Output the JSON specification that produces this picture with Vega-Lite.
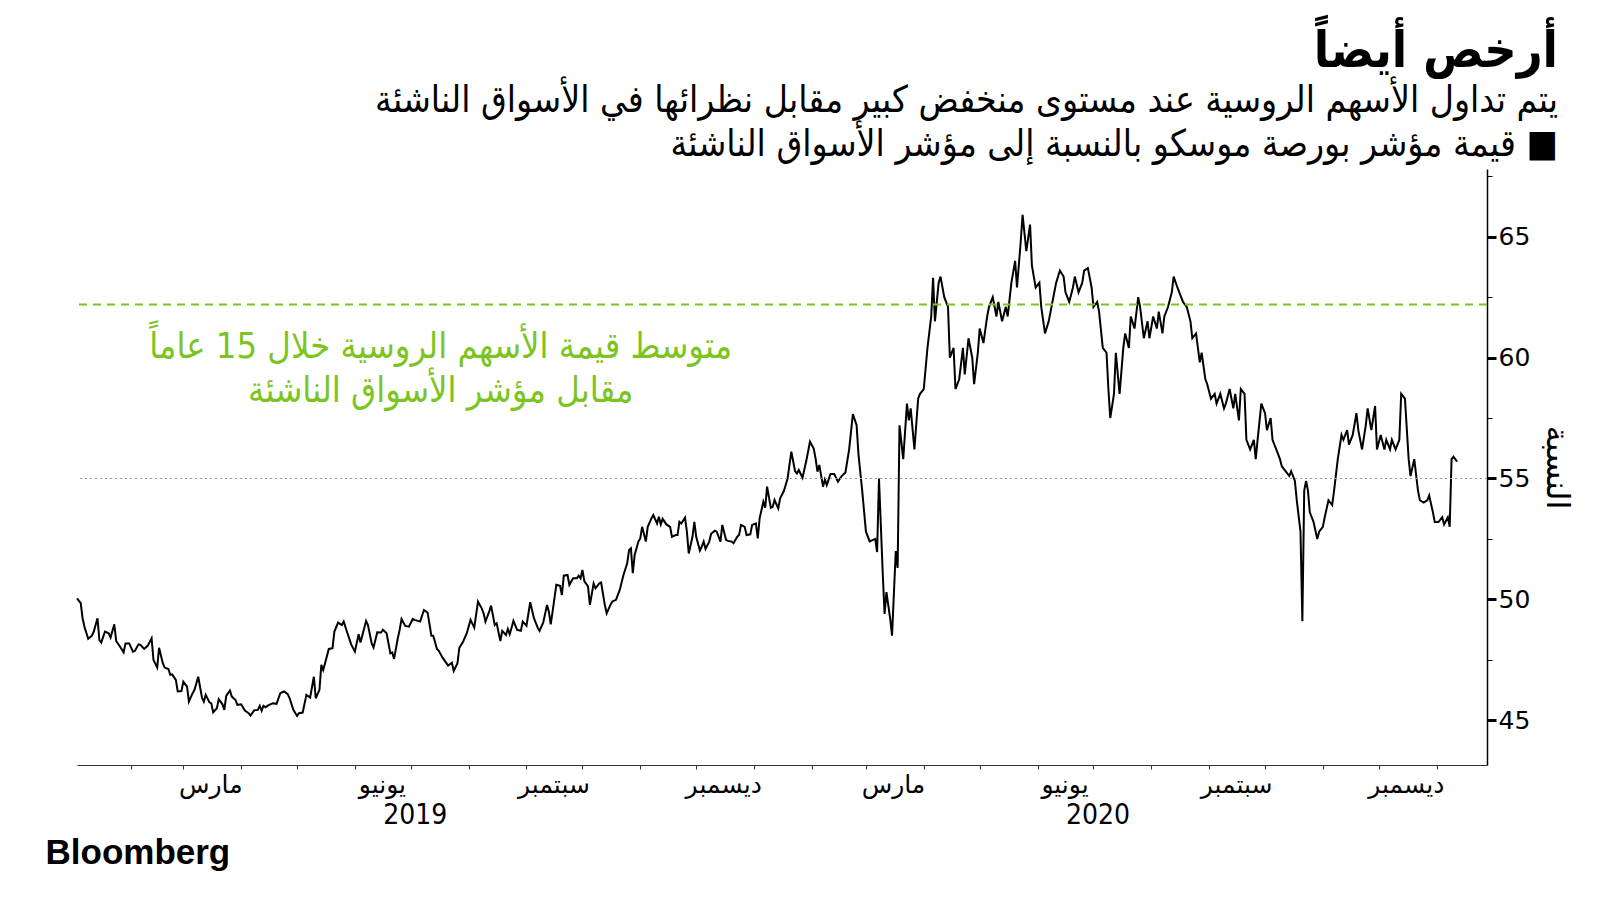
{
"$schema":"https://vega.github.io/schema/vega-lite/v6.json",
"width":1410,"height":596,
"padding":{"left":45,"top":27,"right":5,"bottom":5},
"background":"white",
"config":{"view":{"stroke":null}},
"title":{"text":"أرخص أيضاً","subtitle":["يتم تداول الأسهم الروسية عند مستوى منخفض كبير مقابل نظرائها في الأسواق الناشئة","قيمة مؤشر بورصة موسكو بالنسبة إلى مؤشر الأسواق الناشئة ■"],"anchor":"end","frame":"group","dx":71,"offset":1,"font":"DejaVu Sans Condensed","fontSize":50,"fontWeight":"bold","color":"black","lineHeight":52,"subtitleFont":"DejaVu Sans Condensed","subtitleFontSize":37,"subtitleColor":"black","subtitleLineHeight":44,"subtitlePadding":6},
"layer":[
{"data":{"values":[
{"d":"2019-01-03","v":50.04},{"d":"2019-01-05","v":49.84},{"d":"2019-01-06","v":49.22},{"d":"2019-01-07","v":48.87},{"d":"2019-01-09","v":48.37},{"d":"2019-01-11","v":48.5},{"d":"2019-01-12","v":48.67},{"d":"2019-01-14","v":49.22},{"d":"2019-01-15","v":48.32},{"d":"2019-01-16","v":48.21},{"d":"2019-01-18","v":48.67},{"d":"2019-01-20","v":48.6},{"d":"2019-01-21","v":48.42},{"d":"2019-01-23","v":48.97},{"d":"2019-01-24","v":48.28},{"d":"2019-01-26","v":48.05},{"d":"2019-01-28","v":47.81},{"d":"2019-01-29","v":48.18},{"d":"2019-01-31","v":48.18},
{"d":"2019-02-02","v":47.84},{"d":"2019-02-03","v":47.87},{"d":"2019-02-05","v":48.14},{"d":"2019-02-06","v":48.12},{"d":"2019-02-08","v":47.95},{"d":"2019-02-10","v":48.09},{"d":"2019-02-12","v":48.39},{"d":"2019-02-13","v":47.5},{"d":"2019-02-15","v":47.18},{"d":"2019-02-16","v":48.0},{"d":"2019-02-18","v":47.36},{"d":"2019-02-19","v":47.18},{"d":"2019-02-21","v":47.12},{"d":"2019-02-22","v":46.88},{"d":"2019-02-23","v":46.9},{"d":"2019-02-25","v":46.67},{"d":"2019-02-26","v":46.19},{"d":"2019-02-28","v":46.21},
{"d":"2019-03-01","v":46.6},{"d":"2019-03-03","v":46.39},{"d":"2019-03-04","v":45.77},{"d":"2019-03-06","v":46.12},{"d":"2019-03-07","v":46.26},{"d":"2019-03-09","v":46.8},{"d":"2019-03-11","v":45.94},{"d":"2019-03-12","v":45.77},{"d":"2019-03-13","v":46.05},{"d":"2019-03-15","v":45.74},{"d":"2019-03-16","v":45.7},{"d":"2019-03-17","v":45.33},{"d":"2019-03-19","v":45.5},{"d":"2019-03-20","v":45.87},{"d":"2019-03-22","v":45.66},{"d":"2019-03-23","v":45.43},{"d":"2019-03-24","v":46.01},{"d":"2019-03-26","v":46.23},{"d":"2019-03-27","v":45.98},{"d":"2019-03-29","v":45.84},{"d":"2019-03-30","v":45.64},
{"d":"2019-04-01","v":45.66},{"d":"2019-04-03","v":45.4},{"d":"2019-04-05","v":45.29},{"d":"2019-04-06","v":45.19},{"d":"2019-04-08","v":45.41},{"d":"2019-04-10","v":45.43},{"d":"2019-04-11","v":45.6},{"d":"2019-04-12","v":45.4},{"d":"2019-04-13","v":45.6},{"d":"2019-04-14","v":45.54},{"d":"2019-04-16","v":45.64},{"d":"2019-04-18","v":45.7},{"d":"2019-04-20","v":45.68},{"d":"2019-04-22","v":46.12},{"d":"2019-04-24","v":46.19},{"d":"2019-04-26","v":46.08},{"d":"2019-04-27","v":45.91},{"d":"2019-04-29","v":45.43},
{"d":"2019-05-01","v":45.18},{"d":"2019-05-02","v":45.29},{"d":"2019-05-04","v":45.32},{"d":"2019-05-06","v":46.05},{"d":"2019-05-08","v":45.94},{"d":"2019-05-10","v":46.8},{"d":"2019-05-11","v":45.91},{"d":"2019-05-13","v":46.26},{"d":"2019-05-14","v":47.29},{"d":"2019-05-15","v":47.08},{"d":"2019-05-16","v":47.36},{"d":"2019-05-18","v":47.95},{"d":"2019-05-20","v":47.98},{"d":"2019-05-21","v":48.67},{"d":"2019-05-23","v":49.04},{"d":"2019-05-25","v":48.94},{"d":"2019-05-26","v":49.08},{"d":"2019-05-28","v":48.6},{"d":"2019-05-30","v":48.14},
{"d":"2019-06-01","v":47.84},{"d":"2019-06-03","v":48.56},{"d":"2019-06-04","v":48.22},{"d":"2019-06-07","v":49.11},{"d":"2019-06-08","v":48.94},{"d":"2019-06-10","v":48.18},{"d":"2019-06-11","v":48.01},{"d":"2019-06-13","v":48.64},{"d":"2019-06-15","v":48.63},{"d":"2019-06-16","v":48.74},{"d":"2019-06-18","v":48.6},{"d":"2019-06-20","v":47.77},{"d":"2019-06-21","v":47.81},{"d":"2019-06-22","v":47.54},{"d":"2019-06-24","v":48.39},{"d":"2019-06-25","v":48.74},{"d":"2019-06-26","v":49.19},{"d":"2019-06-28","v":48.9},{"d":"2019-06-30","v":48.87},
{"d":"2019-07-02","v":49.19},{"d":"2019-07-03","v":49.15},{"d":"2019-07-06","v":49.08},{"d":"2019-07-08","v":49.56},{"d":"2019-07-10","v":49.45},{"d":"2019-07-12","v":48.5},{"d":"2019-07-13","v":48.5},{"d":"2019-07-15","v":47.95},{"d":"2019-07-16","v":47.87},{"d":"2019-07-18","v":47.59},{"d":"2019-07-21","v":47.26},{"d":"2019-07-23","v":47.38},{"d":"2019-07-24","v":47.04},{"d":"2019-07-26","v":47.36},{"d":"2019-07-27","v":48.0},{"d":"2019-07-29","v":48.25},{"d":"2019-07-31","v":48.6},
{"d":"2019-08-02","v":49.15},{"d":"2019-08-04","v":48.83},{"d":"2019-08-06","v":49.91},{"d":"2019-08-08","v":49.63},{"d":"2019-08-09","v":49.42},{"d":"2019-08-10","v":49.08},{"d":"2019-08-12","v":49.49},{"d":"2019-08-13","v":49.74},{"d":"2019-08-15","v":48.94},{"d":"2019-08-16","v":49.01},{"d":"2019-08-18","v":48.28},{"d":"2019-08-19","v":48.7},{"d":"2019-08-21","v":48.53},{"d":"2019-08-22","v":48.78},{"d":"2019-08-23","v":48.56},{"d":"2019-08-24","v":48.83},{"d":"2019-08-25","v":49.11},{"d":"2019-08-27","v":48.74},{"d":"2019-08-29","v":48.7},{"d":"2019-08-30","v":49.08},
{"d":"2019-09-01","v":48.91},{"d":"2019-09-03","v":49.88},{"d":"2019-09-05","v":49.22},{"d":"2019-09-07","v":48.83},{"d":"2019-09-08","v":48.7},{"d":"2019-09-10","v":49.05},{"d":"2019-09-12","v":49.77},{"d":"2019-09-13","v":49.49},{"d":"2019-09-14","v":48.97},{"d":"2019-09-15","v":49.49},{"d":"2019-09-17","v":50.6},{"d":"2019-09-19","v":50.56},{"d":"2019-09-20","v":50.18},{"d":"2019-09-21","v":50.98},{"d":"2019-09-23","v":51.01},{"d":"2019-09-24","v":50.6},{"d":"2019-09-26","v":50.87},{"d":"2019-09-28","v":50.87},{"d":"2019-09-29","v":50.98},{"d":"2019-09-30","v":50.87},
{"d":"2019-10-01","v":51.22},{"d":"2019-10-02","v":50.76},{"d":"2019-10-04","v":50.53},{"d":"2019-10-05","v":49.77},{"d":"2019-10-07","v":50.66},{"d":"2019-10-08","v":50.46},{"d":"2019-10-10","v":50.66},{"d":"2019-10-11","v":50.7},{"d":"2019-10-13","v":49.77},{"d":"2019-10-14","v":49.42},{"d":"2019-10-16","v":49.77},{"d":"2019-10-17","v":49.91},{"d":"2019-10-19","v":49.98},{"d":"2019-10-21","v":50.39},{"d":"2019-10-23","v":51.01},{"d":"2019-10-25","v":51.49},{"d":"2019-10-26","v":52.04},{"d":"2019-10-27","v":52.11},{"d":"2019-10-28","v":51.08},{"d":"2019-10-29","v":51.84},{"d":"2019-10-31","v":52.39},
{"d":"2019-11-01","v":52.52},{"d":"2019-11-02","v":53.0},{"d":"2019-11-04","v":52.39},{"d":"2019-11-05","v":53.0},{"d":"2019-11-07","v":53.35},{"d":"2019-11-08","v":53.49},{"d":"2019-11-10","v":53.14},{"d":"2019-11-11","v":53.42},{"d":"2019-11-12","v":53.1},{"d":"2019-11-13","v":53.33},{"d":"2019-11-15","v":53.1},{"d":"2019-11-17","v":53.0},{"d":"2019-11-18","v":52.59},{"d":"2019-11-20","v":52.66},{"d":"2019-11-21","v":52.66},{"d":"2019-11-22","v":53.21},{"d":"2019-11-23","v":53.14},{"d":"2019-11-25","v":53.38},{"d":"2019-11-26","v":52.8},{"d":"2019-11-27","v":51.9},{"d":"2019-11-29","v":52.59},{"d":"2019-11-30","v":53.21},
{"d":"2019-12-01","v":52.59},{"d":"2019-12-03","v":52.02},{"d":"2019-12-04","v":52.18},{"d":"2019-12-05","v":52.39},{"d":"2019-12-06","v":52.09},{"d":"2019-12-08","v":52.39},{"d":"2019-12-09","v":52.71},{"d":"2019-12-11","v":52.84},{"d":"2019-12-12","v":52.8},{"d":"2019-12-14","v":52.39},{"d":"2019-12-15","v":53.08},{"d":"2019-12-17","v":52.46},{"d":"2019-12-18","v":52.42},{"d":"2019-12-20","v":52.39},{"d":"2019-12-21","v":52.32},{"d":"2019-12-23","v":52.59},{"d":"2019-12-24","v":52.66},{"d":"2019-12-25","v":53.08},{"d":"2019-12-27","v":53.0},{"d":"2019-12-28","v":52.66},{"d":"2019-12-30","v":52.69},{"d":"2019-12-31","v":53.08},
{"d":"2020-01-02","v":53.14},{"d":"2020-01-03","v":52.52},{"d":"2020-01-04","v":53.35},{"d":"2020-01-06","v":54.04},{"d":"2020-01-07","v":53.79},{"d":"2020-01-08","v":54.66},{"d":"2020-01-10","v":53.79},{"d":"2020-01-11","v":53.83},{"d":"2020-01-12","v":54.11},{"d":"2020-01-14","v":53.76},{"d":"2020-01-15","v":54.18},{"d":"2020-01-17","v":54.48},{"d":"2020-01-19","v":55.0},{"d":"2020-01-21","v":56.11},{"d":"2020-01-23","v":55.31},{"d":"2020-01-24","v":55.21},{"d":"2020-01-25","v":55.35},{"d":"2020-01-27","v":55.03},{"d":"2020-01-29","v":55.72},{"d":"2020-01-31","v":56.52},
{"d":"2020-02-02","v":56.24},{"d":"2020-02-03","v":55.83},{"d":"2020-02-04","v":55.28},{"d":"2020-02-05","v":55.56},{"d":"2020-02-07","v":54.66},{"d":"2020-02-08","v":54.96},{"d":"2020-02-09","v":54.73},{"d":"2020-02-11","v":55.19},{"d":"2020-02-13","v":55.19},{"d":"2020-02-15","v":54.87},{"d":"2020-02-17","v":55.1},{"d":"2020-02-19","v":55.25},{"d":"2020-02-21","v":56.2},{"d":"2020-02-23","v":57.66},{"d":"2020-02-25","v":57.2},{"d":"2020-02-26","v":56.0},{"d":"2020-02-28","v":54.5},
{"d":"2020-03-01","v":52.8},{"d":"2020-03-03","v":52.4},{"d":"2020-03-06","v":52.5},{"d":"2020-03-07","v":51.96},{"d":"2020-03-08","v":55.0},{"d":"2020-03-10","v":51.1},{"d":"2020-03-11","v":49.4},{"d":"2020-03-12","v":50.3},{"d":"2020-03-14","v":49.2},{"d":"2020-03-15","v":48.5},{"d":"2020-03-17","v":52.0},{"d":"2020-03-18","v":51.3},{"d":"2020-03-19","v":57.2},{"d":"2020-03-21","v":55.8},{"d":"2020-03-23","v":58.1},{"d":"2020-03-24","v":57.4},{"d":"2020-03-25","v":57.9},{"d":"2020-03-27","v":56.2},{"d":"2020-03-29","v":58.3},{"d":"2020-03-30","v":58.5},
{"d":"2020-04-01","v":58.7},{"d":"2020-04-03","v":60.4},{"d":"2020-04-05","v":61.7},{"d":"2020-04-06","v":63.3},{"d":"2020-04-07","v":61.5},{"d":"2020-04-09","v":63.1},{"d":"2020-04-10","v":63.35},{"d":"2020-04-12","v":62.5},{"d":"2020-04-14","v":62.1},{"d":"2020-04-15","v":60.0},{"d":"2020-04-17","v":60.4},{"d":"2020-04-18","v":58.7},{"d":"2020-04-20","v":59.1},{"d":"2020-04-22","v":60.4},{"d":"2020-04-23","v":59.3},{"d":"2020-04-25","v":60.8},{"d":"2020-04-27","v":60.0},{"d":"2020-04-28","v":58.9},{"d":"2020-04-30","v":60.2},
{"d":"2020-05-01","v":61.2},{"d":"2020-05-03","v":60.6},{"d":"2020-05-05","v":61.7},{"d":"2020-05-06","v":62.1},{"d":"2020-05-08","v":62.5},{"d":"2020-05-10","v":61.7},{"d":"2020-05-11","v":62.3},{"d":"2020-05-13","v":61.5},{"d":"2020-05-15","v":62.1},{"d":"2020-05-16","v":61.7},{"d":"2020-05-18","v":63.1},{"d":"2020-05-20","v":64.0},{"d":"2020-05-21","v":62.9},{"d":"2020-05-23","v":64.8},{"d":"2020-05-24","v":65.9},{"d":"2020-05-26","v":64.4},{"d":"2020-05-28","v":65.5},{"d":"2020-05-29","v":63.8},{"d":"2020-05-31","v":62.9},
{"d":"2020-06-02","v":63.1},{"d":"2020-06-03","v":62.1},{"d":"2020-06-05","v":61.0},{"d":"2020-06-07","v":61.5},{"d":"2020-06-08","v":61.9},{"d":"2020-06-10","v":62.7},{"d":"2020-06-11","v":63.1},{"d":"2020-06-13","v":63.6},{"d":"2020-06-15","v":63.35},{"d":"2020-06-16","v":62.7},{"d":"2020-06-18","v":62.3},{"d":"2020-06-20","v":62.9},{"d":"2020-06-21","v":63.35},{"d":"2020-06-23","v":62.7},{"d":"2020-06-25","v":63.1},{"d":"2020-06-26","v":63.6},{"d":"2020-06-28","v":63.7},{"d":"2020-06-30","v":62.9},
{"d":"2020-07-01","v":62.1},{"d":"2020-07-03","v":62.3},{"d":"2020-07-04","v":61.9},{"d":"2020-07-06","v":60.4},{"d":"2020-07-08","v":60.2},{"d":"2020-07-09","v":58.7},{"d":"2020-07-10","v":57.5},{"d":"2020-07-12","v":58.5},{"d":"2020-07-13","v":60.2},{"d":"2020-07-15","v":58.5},{"d":"2020-07-17","v":60.4},{"d":"2020-07-18","v":61.0},{"d":"2020-07-20","v":60.4},{"d":"2020-07-21","v":61.7},{"d":"2020-07-23","v":61.2},{"d":"2020-07-25","v":62.5},{"d":"2020-07-26","v":62.1},{"d":"2020-07-28","v":60.8},{"d":"2020-07-30","v":61.5},{"d":"2020-07-31","v":60.8},
{"d":"2020-08-02","v":61.7},{"d":"2020-08-04","v":61.2},{"d":"2020-08-05","v":61.9},{"d":"2020-08-07","v":61.0},{"d":"2020-08-08","v":61.7},{"d":"2020-08-10","v":62.1},{"d":"2020-08-12","v":62.7},{"d":"2020-08-13","v":63.35},{"d":"2020-08-15","v":62.9},{"d":"2020-08-17","v":62.5},{"d":"2020-08-18","v":62.3},{"d":"2020-08-20","v":62.1},{"d":"2020-08-22","v":61.5},{"d":"2020-08-23","v":60.8},{"d":"2020-08-25","v":61.0},{"d":"2020-08-27","v":59.8},{"d":"2020-08-28","v":60.2},{"d":"2020-08-30","v":59.1},{"d":"2020-08-31","v":58.9},
{"d":"2020-09-02","v":58.3},{"d":"2020-09-04","v":58.5},{"d":"2020-09-05","v":58.1},{"d":"2020-09-07","v":58.5},{"d":"2020-09-09","v":57.9},{"d":"2020-09-10","v":58.1},{"d":"2020-09-12","v":58.7},{"d":"2020-09-14","v":57.9},{"d":"2020-09-15","v":58.5},{"d":"2020-09-17","v":57.4},{"d":"2020-09-18","v":58.7},{"d":"2020-09-20","v":58.5},{"d":"2020-09-21","v":56.6},{"d":"2020-09-23","v":56.2},{"d":"2020-09-25","v":56.6},{"d":"2020-09-26","v":55.8},{"d":"2020-09-27","v":56.6},{"d":"2020-09-29","v":58.1},
{"d":"2020-10-01","v":57.7},{"d":"2020-10-02","v":57.0},{"d":"2020-10-04","v":57.5},{"d":"2020-10-05","v":56.6},{"d":"2020-10-07","v":56.2},{"d":"2020-10-09","v":55.8},{"d":"2020-10-10","v":55.5},{"d":"2020-10-12","v":55.3},{"d":"2020-10-14","v":55.1},{"d":"2020-10-15","v":55.3},{"d":"2020-10-17","v":54.9},{"d":"2020-10-18","v":54.1},{"d":"2020-10-20","v":52.8},{"d":"2020-10-21","v":49.1},{"d":"2020-10-22","v":54.5},{"d":"2020-10-23","v":54.9},{"d":"2020-10-24","v":54.5},{"d":"2020-10-25","v":53.6},{"d":"2020-10-27","v":53.2},{"d":"2020-10-29","v":52.5},{"d":"2020-10-30","v":52.8},
{"d":"2020-11-01","v":53.0},{"d":"2020-11-02","v":53.4},{"d":"2020-11-04","v":54.1},{"d":"2020-11-06","v":53.9},{"d":"2020-11-07","v":54.5},{"d":"2020-11-09","v":55.8},{"d":"2020-11-11","v":56.8},{"d":"2020-11-12","v":56.6},{"d":"2020-11-14","v":57.0},{"d":"2020-11-15","v":56.4},{"d":"2020-11-17","v":56.8},{"d":"2020-11-19","v":57.7},{"d":"2020-11-20","v":57.0},{"d":"2020-11-22","v":56.2},{"d":"2020-11-24","v":57.2},{"d":"2020-11-25","v":57.9},{"d":"2020-11-27","v":57.0},{"d":"2020-11-29","v":58.0},{"d":"2020-11-30","v":56.2},
{"d":"2020-12-02","v":56.8},{"d":"2020-12-04","v":56.2},{"d":"2020-12-05","v":56.6},{"d":"2020-12-07","v":56.2},{"d":"2020-12-08","v":56.6},{"d":"2020-12-10","v":56.2},{"d":"2020-12-12","v":56.6},{"d":"2020-12-13","v":58.5},{"d":"2020-12-15","v":58.3},{"d":"2020-12-17","v":55.8},{"d":"2020-12-18","v":55.1},{"d":"2020-12-20","v":55.8},{"d":"2020-12-22","v":54.5},{"d":"2020-12-23","v":54.1},{"d":"2020-12-25","v":54.0},{"d":"2020-12-27","v":54.1},{"d":"2020-12-28","v":54.3},{"d":"2020-12-30","v":53.6},{"d":"2020-12-31","v":53.2},
{"d":"2021-01-02","v":53.2},{"d":"2021-01-04","v":53.4},{"d":"2021-01-05","v":53.1},{"d":"2021-01-07","v":53.4},{"d":"2021-01-08","v":53.0},{"d":"2021-01-09","v":55.8},{"d":"2021-01-10","v":55.9},{"d":"2021-01-12","v":55.7}
]},
"mark":{"type":"line","color":"black","strokeWidth":2},
"encoding":{
"x":{"field":"d","type":"temporal","scale":{"domain":[{"year":2019,"month":1,"date":3},{"year":2021,"month":1,"date":28}]},
"axis":{"values":[{"year":2019,"month":2,"date":1},{"year":2019,"month":3,"date":1},{"year":2019,"month":4,"date":1},{"year":2019,"month":5,"date":1},{"year":2019,"month":6,"date":1},{"year":2019,"month":7,"date":1},{"year":2019,"month":8,"date":1},{"year":2019,"month":9,"date":1},{"year":2019,"month":10,"date":1},{"year":2019,"month":11,"date":1},{"year":2019,"month":12,"date":1},{"year":2020,"month":1,"date":1},{"year":2020,"month":2,"date":1},{"year":2020,"month":3,"date":1},{"year":2020,"month":4,"date":1},{"year":2020,"month":5,"date":1},{"year":2020,"month":6,"date":1},{"year":2020,"month":7,"date":1},{"year":2020,"month":8,"date":1},{"year":2020,"month":9,"date":1},{"year":2020,"month":10,"date":1},{"year":2020,"month":11,"date":1},{"year":2020,"month":12,"date":1},{"year":2021,"month":1,"date":1}],
"labelExpr":"month(datum.value)==2?'مارس':month(datum.value)==5?'يونيو':month(datum.value)==8?'سبتمبر':month(datum.value)==11?'ديسمبر':month(datum.value)==6?timeFormat(datum.value,'%Y'):''",
"labelOffset":{"condition":{"test":"month(datum.value)==6","value":4},"value":27},
"labelPadding":{"condition":{"test":"month(datum.value)==6","value":32},"value":3.5},
"labelFontSize":{"condition":{"test":"month(datum.value)==6","value":28},"value":25},
"labelFont":{"condition":{"test":"month(datum.value)==6","value":"DejaVu Sans Condensed"},"value":"DejaVu Sans"},
"labelColor":"black","labelOverlap":false,"labelBound":false,"labelFlush":false,"labelAngle":0,"labelAlign":"center",
"tickSize":4,"tickColor":"#333333","domainColor":"#333333","domainWidth":1,"grid":false,
"title":"Bloomberg","titleFont":"Liberation Sans","titleFontSize":35,"titleFontWeight":"bold","titleColor":"black","titleX":-32,"titleY":98,"titleAlign":"left","titleAnchor":"start","titleBaseline":"alphabetic"}},
"y":{"field":"v","type":"quantitative","scale":{"domain":[43.15,67.8],"nice":false,"zero":false},
"axis":{"orient":"right","values":[45,47.5,50,52.5,55,57.5,60,62.5,65,67.5],"labelExpr":"datum.value % 5 == 0 ? datum.label : ''",
"title":"النسبة","titleAngle":90,"titleFont":"DejaVu Sans","titleFontSize":32,"titleFontWeight":"normal","titleColor":"black","titlePadding":10,
"grid":false,"domainColor":"black","domainWidth":1.5,"tickColor":"black",
"tickSize":{"condition":{"test":"datum.value % 5 != 0","value":5},"value":9},
"tickWidth":{"condition":{"test":"datum.value % 5 != 0","value":1},"value":3},
"labelFont":"DejaVu Sans","labelFontSize":25,"labelColor":"black","labelPadding":2,"labelBaseline":"middle","labelOverlap":false}}
}},
{"data":{"values":[{"v":55}]},"mark":{"type":"rule","color":"#999999","strokeDash":[2,3],"strokeWidth":1.2},"encoding":{"y":{"field":"v","type":"quantitative","title":"النسبة"}}},
{"data":{"values":[{"v":62.2}]},"mark":{"type":"rule","color":"#7cc41f","strokeDash":[8,6],"strokeWidth":2},"encoding":{"y":{"field":"v","type":"quantitative","title":"النسبة"}}},
{"data":{"values":[{"d":"2019-07-17","v":60.45,"t":"متوسط قيمة الأسهم الروسية خلال 15 عاماً\nمقابل مؤشر الأسواق الناشئة"}]},
"mark":{"type":"text","color":"#7cc41f","font":"DejaVu Sans Condensed","fontSize":36,"lineBreak":"\n","lineHeight":44,"align":"center","baseline":"middle"},
"encoding":{"x":{"field":"d","type":"temporal","title":"Bloomberg"},"y":{"field":"v","type":"quantitative","title":"النسبة"},"text":{"field":"t"}}}
]
}
